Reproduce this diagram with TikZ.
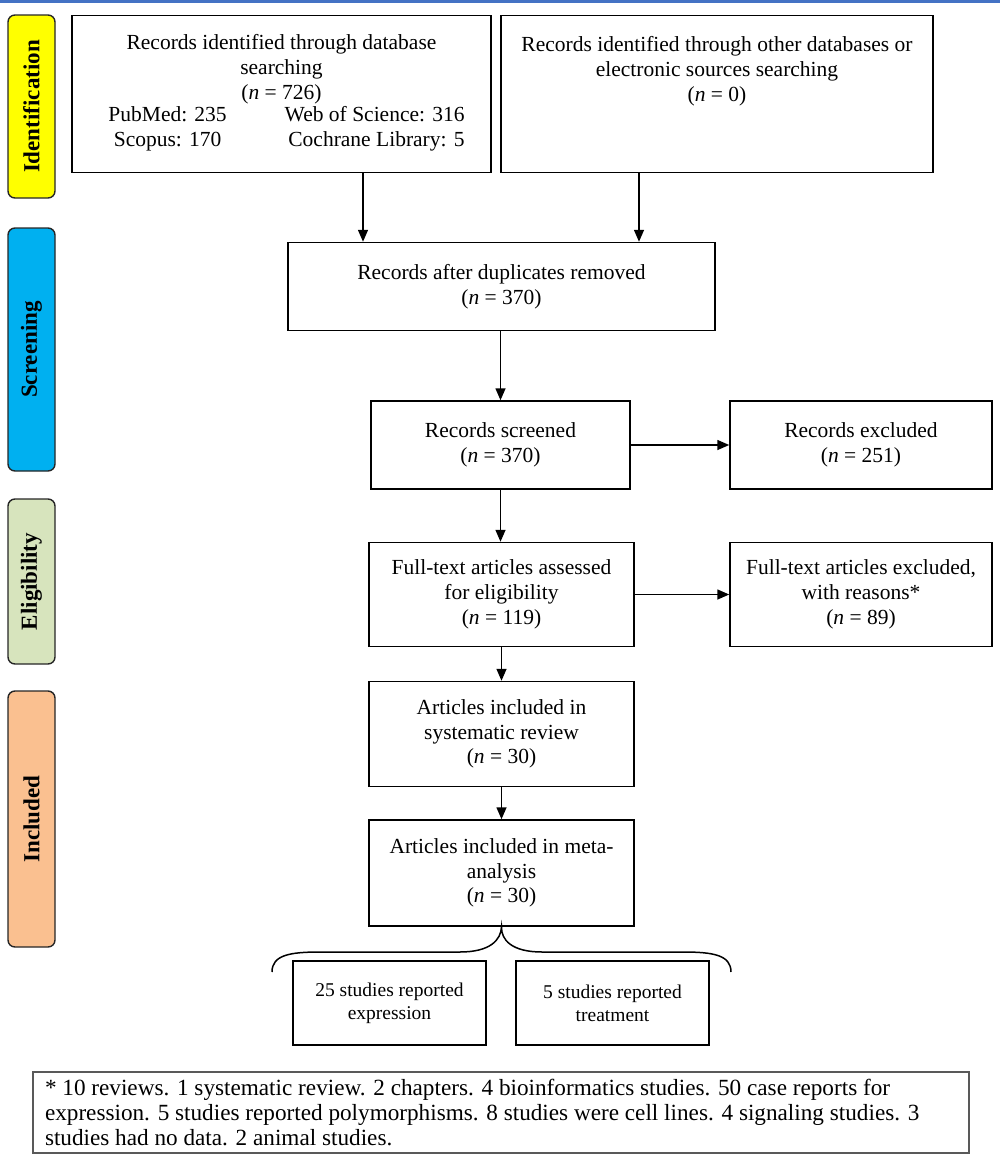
\documentclass[tikz,border=0pt]{standalone}
\usepackage{fontspec}
\setmainfont{Liberation Serif}
\usetikzlibrary{arrows.meta}
\definecolor{idcol}{HTML}{FFFF00}
\definecolor{scrcol}{HTML}{00B0F0}
\definecolor{elicol}{HTML}{D7E4BD}
\definecolor{inccol}{HTML}{FAC090}
\definecolor{topline}{HTML}{4472C4}
\begin{document}
\begin{tikzpicture}[x=1pt,y=-1pt,
  box/.style={draw=black, line width=1.5pt, rectangle, align=center, inner sep=2pt,
    font=\fontsize{21.5}{24.8}\selectfont},
  phase/.style={draw=black!85, line width=1.4pt, rounded corners=7pt, minimum width=47pt,
    font=\fontsize{23}{26}\selectfont\bfseries},
  small/.style={box, font=\fontsize{19.5}{23}\selectfont, minimum width=193pt, minimum height=84pt},
  arr/.style={line width=1.5pt, -{Triangle[length=12pt,width=10pt]}},
  brace/.style={line width=1.5pt}
]
\useasboundingbox (0,0) rectangle (1000,1159);
\fill[topline] (0,0) rectangle (1000,2.5);

% phase labels
\node[phase, fill=idcol, minimum height=183pt] (pid) at (31.5,106.5) {\rotatebox{90}{Identification}};
\node[phase, fill=scrcol, minimum height=243pt] (pscr) at (31.5,349.5) {\rotatebox{90}{Screening}};
\node[phase, fill=elicol, minimum height=165pt] (peli) at (31.5,581.5) {\rotatebox{90}{Eligibility}};
\node[phase, fill=inccol, minimum height=256pt] (pinc) at (31.5,819) {\rotatebox{90}{Included}};

% boxes
\node[box, minimum width=419pt, minimum height=157pt] (b1) at (281.5,94)
 {Records identified through database\\searching\\(\textit{n} = 726)\\[-1pt]
  \hspace*{10pt}\begin{tabular}{@{}c@{\hspace{58pt}}r@{}}PubMed: 235 & Web of Science: 316\\Scopus: 170 & Cochrane Library: 5\end{tabular}};
\node[box, minimum width=432pt, minimum height=157pt] (b2) at (717,94)
 {Records identified through other databases or\\electronic sources searching\\(\textit{n} = 0)\\\mbox{}\\\mbox{}};
\node[box, minimum width=427pt, minimum height=88pt] (b3) at (501.5,286.5)
 {Records after duplicates removed\\(\textit{n} = 370)};
\node[box, minimum width=259pt, minimum height=88pt] (b4) at (500.5,445)
 {Records screened\\(\textit{n} = 370)};
\node[box, minimum width=262pt, minimum height=88pt] (ex1) at (861,445)
 {Records excluded\\(\textit{n} = 251)};
\node[box, minimum width=265pt, minimum height=104pt] (b5) at (501.5,594.5)
 {Full-text articles assessed\\for eligibility\\(\textit{n} = 119)};
\node[box, minimum width=262pt, minimum height=104pt] (ex2) at (861,594.5)
 {Full-text articles excluded,\\with reasons*\\(\textit{n} = 89)};
\node[box, minimum width=265pt, minimum height=105pt] (b6) at (501.5,734)
 {Articles included in\\systematic review\\(\textit{n} = 30)};
\node[box, minimum width=265pt, minimum height=106pt] (b7) at (501.5,873)
 {Articles included in meta-\\analysis\\(\textit{n} = 30)};
\node[small] (s1) at (389.5,1003) {25 studies reported\\expression};
\node[small] (s2) at (612.5,1003) {5 studies reported\\treatment};
\node[draw=black!65, line width=1.2pt, minimum width=936pt, minimum height=81pt, inner sep=0pt,
      font=\fontsize{23.2}{25}\selectfont] (note) at (501,1112.5)
 {\parbox{912pt}{\raggedright * 10 reviews. 1 systematic review. 2 chapters. 4 bioinformatics studies. 50 case reports for\\expression. 5 studies reported polymorphisms. 8 studies were cell lines. 4 signaling studies. 3\\studies had no data. 2 animal studies.}};

% connectors
\draw[arr] (b1.south -| 363,0) -- (b3.north -| 363,0);
\draw[arr] (b2.south -| 639,0) -- (b3.north -| 639,0);
\draw[arr] (b3.south -| b4.north) -- (b4.north);
\draw[arr] (b4.east) -- (ex1.west);
\draw[arr] (b4.south) -- (b5.north -| b4.south);
\draw[arr] (b5.east) -- (ex2.west);
\draw[arr] (b5.south) -- (b6.north);
\draw[arr] (b6.south) -- (b7.north);

% brace
\coordinate (bl) at (272,972);
\coordinate (br) at (731,972);
\draw[brace] (bl) .. controls (272,955) and (290,952) .. (320,952) -- (460,952)
  .. controls (490,952) and (501,940) .. (b7.south)
  .. controls (501,940) and (512,952) .. (542,952) -- (683,952)
  .. controls (713,952) and (731,955) .. (br);
\end{tikzpicture}
\end{document}
